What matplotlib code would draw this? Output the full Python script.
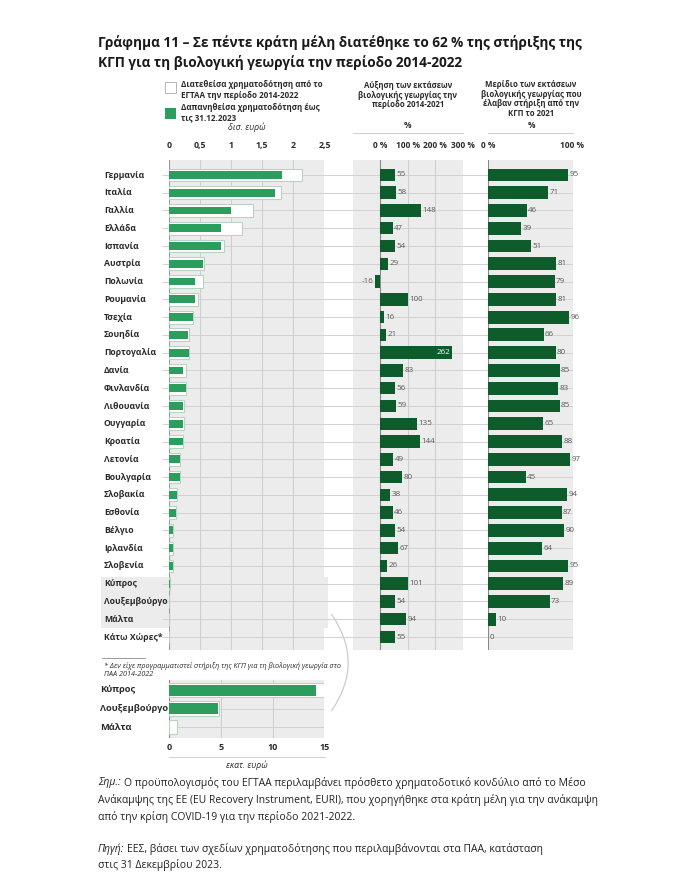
import matplotlib
matplotlib.use("Agg")
import matplotlib.pyplot as plt
from matplotlib.patches import Rectangle, FancyArrowPatch
import numpy as np

W, H = 700, 874

countries = ['Γερμανία', 'Ιταλία', 'Γαλλία', 'Ελλάδα', 'Ισπανία', 'Αυστρία', 'Πολωνία',
             'Ρουμανία', 'Τσεχία', 'Σουηδία', 'Πορτογαλία', 'Δανία', 'Φινλανδία',
             'Λιθουανία', 'Ουγγαρία', 'Κροατία', 'Λετονία', 'Βουλγαρία', 'Σλοβακία',
             'Εσθονία', 'Βέλγιο', 'Ιρλανδία', 'Σλοβενία', 'Κύπρος', 'Λουξεμβούργο',
             'Μάλτα', 'Κάτω Χώρες*']
allocated = [2.14, 1.80, 1.35, 1.18, 0.89, 0.56, 0.55, 0.47, 0.39, 0.32, 0.32, 0.28, 0.28,
             0.24, 0.24, 0.23, 0.18, 0.17, 0.13, 0.12, 0.07, 0.07, 0.07, 0.015, 0.0048,
             0.0008, 0.0]
spent = [1.82, 1.71, 0.99, 0.83, 0.84, 0.55, 0.42, 0.42, 0.38, 0.31, 0.32, 0.22, 0.28,
         0.22, 0.22, 0.22, 0.18, 0.17, 0.13, 0.12, 0.07, 0.07, 0.07, 0.014, 0.0047,
         0.0, 0.0]
growth = [55, 58, 148, 47, 54, 29, -16, 100, 16, 21, 262, 83, 56, 59, 135, 144, 49, 80,
          38, 46, 54, 67, 26, 101, 54, 94, 55]
share = [95, 71, 46, 39, 51, 81, 79, 81, 96, 66, 80, 85, 83, 85, 65, 88, 97, 45, 94, 87,
         90, 64, 95, 89, 73, 10, 0]

inset_countries = ['Κύπρος', 'Λουξεμβούργο', 'Μάλτα']
inset_allocated = [15.0, 4.86, 0.8]
inset_spent = [14.2, 4.76, 0.0]

left_ticks = [0, 0.5, 1, 1.5, 2, 2.5]
left_ticklabels = ['0', '0,5', '1', '1,5', '2', '2,5']
mid_ticks = [0, 100, 200, 300]
mid_ticklabels = ['0 %', '100 %', '200 %', '300 %']
right_ticks = [0, 100]
right_ticklabels = ['0 %', '100 %']
inset_ticks = [0, 5, 10, 15]
inset_ticklabels = ['0', '5', '10', '15']

GREEN = '#2b9e5e'
DARK = '#0e5b2b'
PANEL = '#ececec'
GRID = '#cdcdcd'
TXT = '#2b2b2b'
LBL = '#5a5a5a'
COND = ['Liberation Sans Narrow', 'Open Sans', 'DejaVu Sans']
MAIN = ['Open Sans', 'DejaVu Sans']

plt.rcParams['font.family'] = MAIN

fig = plt.figure(figsize=(W / 100, H / 100), dpi=100)


def rect(x0, y0, x1, y1):
    return [x0 / W, 1 - y1 / H, (x1 - x0) / W, (y1 - y0) / H]


def fx(x):
    return x / W


def fy(y):
    return 1 - y / H


n = len(countries)
rows = np.arange(n)
YLIM = (26.73, -0.84)

# background axes for panels and highlight box (pixel coordinates)
bg = fig.add_axes([0, 0, 1, 1], zorder=0)
bg.set_xlim(0, W)
bg.set_ylim(H, 0)
bg.axis('off')
bg.add_patch(Rectangle((169, 160), 324.4 - 169, 490, color=PANEL, lw=0))
bg.add_patch(Rectangle((353, 160), 463 - 353, 490, color=PANEL, lw=0))
bg.add_patch(Rectangle((488, 160), 572.5 - 488, 490, color=PANEL, lw=0))
bg.add_patch(Rectangle((101, 577), 328 - 101, 51, color=PANEL, lw=0))
bg.plot([353, 463], [133, 133], color=GRID, lw=0.7)
bg.plot([488, 572.5], [133, 133], color=GRID, lw=0.7)

# row lines via an axis sharing the row scale
rl = fig.add_axes(rect(162, 160, 573, 650), zorder=1)
rl.set_ylim(*YLIM)
rl.set_xlim(0, 1)
rl.axis('off')
rl.hlines(rows, 0, 1, color='#d2d2d2', lw=0.7)

# ---- left panel
axL = fig.add_axes(rect(169, 160, 324.4, 650), zorder=2)
axL.patch.set_alpha(0)
axL.set_xlim(0, 2.5)
axL.set_ylim(*YLIM)
for t in left_ticks[1:]:
    axL.axvline(t, color=GRID, lw=0.7, zorder=0)
axL.axvline(0, color='#9a9a9a', lw=0.8, zorder=0)
axL.barh(rows, allocated, height=0.72, color='white', edgecolor='#b9d3c2', lw=0.8, zorder=2)
axL.barh(rows, spent, height=0.44, color=GREEN, lw=0, zorder=3)
axL.set_xticks(left_ticks)
axL.set_xticklabels(left_ticklabels, fontweight='bold', fontsize=6.3, color=TXT, family=COND)
axL.xaxis.set_ticks_position('top')
axL.tick_params(axis='x', length=0, pad=7.5)
axL.set_yticks([])
for s in axL.spines.values():
    s.set_visible(False)

for i, c in enumerate(countries):
    fig.text(fx(104), fy(175 + i * 17.77), c, fontsize=6.2, fontweight='bold', color=TXT,
             va='center', ha='left', family=COND)

# ---- middle panel
axM = fig.add_axes(rect(353, 160, 463, 650), zorder=2)
axM.patch.set_alpha(0)
axM.set_xlim(-97, 300)
axM.set_ylim(*YLIM)
for t in [100, 200]:
    axM.axvline(t, color=GRID, lw=0.7, zorder=0)
axM.axvline(0, color='#8a8a8a', lw=0.8, zorder=0)
axM.barh(rows, growth, height=0.7, color=DARK, lw=0, zorder=3)
for i, v in enumerate(growth):
    if v > 250:
        axM.text(v - 6, i, str(v), ha='right', va='center', fontsize=5.8, color='white', zorder=4)
    elif v < 0:
        axM.text(v - 6, i, str(v), ha='right', va='center', fontsize=5.8, color=LBL, zorder=4)
    else:
        axM.text(v + 5, i, str(v), ha='left', va='center', fontsize=5.8, color=LBL, zorder=4)
axM.set_xticks(mid_ticks)
axM.set_xticklabels(mid_ticklabels, fontweight='bold', fontsize=6.0, color=TXT, family=COND)
axM.xaxis.set_ticks_position('top')
axM.tick_params(axis='x', length=0, pad=7.5)
axM.set_yticks([])
for s in axM.spines.values():
    s.set_visible(False)

# ---- right panel
axR = fig.add_axes(rect(488, 160, 572.5, 650), zorder=2)
axR.patch.set_alpha(0)
axR.set_xlim(0, 100)
axR.set_ylim(*YLIM)
axR.axvline(100, color=GRID, lw=0.7, zorder=0)
axR.axvline(0, color='#8a8a8a', lw=0.8, zorder=0)
axR.barh(rows, share, height=0.72, color=DARK, lw=0, zorder=3)
for i, v in enumerate(share):
    axR.text(v + 1.5, i, str(v), ha='left', va='center', fontsize=5.8, color=LBL, zorder=4,
             clip_on=False)
axR.set_xticks(right_ticks)
axR.set_xticklabels(right_ticklabels, fontweight='bold', fontsize=6.0, color=TXT, family=COND)
axR.xaxis.set_ticks_position('top')
axR.tick_params(axis='x', length=0, pad=7.5)
axR.set_yticks([])
for s in axR.spines.values():
    s.set_visible(False)

# ---- headers
fig.text(fx(247), fy(127), 'δισ. ευρώ', fontsize=6.3, style='italic', color=TXT,
         ha='center', va='center', family=COND)
fig.text(fx(408), fy(95), 'Αύξηση των εκτάσεων\nβιολογικής γεωργίας την\nπερίοδο 2014-2021',
         fontsize=5.6, fontweight='bold', color=TXT, ha='center', va='center',
         linespacing=1.1, family=COND)
fig.text(fx(531), fy(99), 'Μερίδιο των εκτάσεων\nβιολογικής γεωργίας που\nέλαβαν στήριξη από την\nΚΓΠ το 2021',
         fontsize=5.6, fontweight='bold', color=TXT, ha='center', va='center',
         linespacing=1.05, family=COND)
fig.text(fx(408), fy(126), '%', fontsize=6, fontweight='bold', color=TXT, ha='center', va='center')
fig.text(fx(531), fy(126), '%', fontsize=6, fontweight='bold', color=TXT, ha='center', va='center')

# legend
fig.add_artist(Rectangle((fx(165), fy(93)), 11 / W, 11 / H, transform=fig.transFigure,
                         facecolor='white', edgecolor='#b5b5b5', lw=0.7))
fig.add_artist(Rectangle((fx(165), fy(119)), 11 / W, 11 / H, transform=fig.transFigure,
                         facecolor=GREEN, edgecolor='none'))
fig.text(fx(181), fy(90), 'Διατεθείσα χρηματοδότηση από το\nΕΓΤΑΑ την περίοδο 2014-2022',
         fontsize=5.8, fontweight='bold', color=TXT, ha='left', va='center',
         linespacing=1.15, family=COND)
fig.text(fx(181), fy(113), 'Δαπανηθείσα χρηματοδότηση έως\nτις 31.12.2023',
         fontsize=5.8, fontweight='bold', color=TXT, ha='left', va='center',
         linespacing=1.15, family=COND)

# title
fig.text(fx(98), fy(42), 'Γράφημα 11 – Σε πέντε κράτη μέλη διατέθηκε το 62 % της στήριξης της',
         fontsize=9.8, fontweight='bold', color='#1a1a1a', ha='left', va='center')
fig.text(fx(98), fy(63), 'ΚΓΠ για τη βιολογική γεωργία την περίοδο 2014-2022',
         fontsize=9.8, fontweight='bold', color='#1a1a1a', ha='left', va='center')

# footnote star
bg.plot([102, 145], [658, 658], color='#888888', lw=0.6)
fig.text(fx(104), fy(670), '* Δεν είχε προγραμματιστεί στήριξη της ΚΓΠ για τη βιολογική γεωργία στο\nΠΑΑ 2014-2022',
         fontsize=5.2, style='italic', color=TXT, ha='left', va='center', linespacing=1.2,
         family=COND)

# ---- inset
axI = fig.add_axes(rect(169, 680, 324.4, 738), zorder=2)
axI.set_facecolor(PANEL)
ir = np.arange(len(inset_countries))
axI.set_xlim(0, 15)
axI.set_ylim(2.6, -0.55)
for t in [5, 10]:
    axI.axvline(t, color=GRID, lw=0.7, zorder=0)
axI.axvline(0, color='#8a8a8a', lw=0.8, zorder=0)
axI.hlines(ir, 0, 15, color='#d2d2d2', lw=0.7, zorder=0)
axI.barh(ir, inset_allocated, height=0.8, color='white', edgecolor='#b9d3c2', lw=0.8, zorder=2)
axI.barh(ir, inset_spent, height=0.6, color=GREEN, lw=0, zorder=3)
axI.set_xticks(inset_ticks)
axI.set_xticklabels(inset_ticklabels, fontweight='bold', fontsize=6.5, color=TXT, family=COND)
axI.tick_params(axis='x', length=0, pad=3.5)
axI.set_yticks([])
for s in axI.spines.values():
    s.set_visible(False)
for i, c in enumerate(inset_countries):
    fig.text(fx(100), fy(690 + i * 18.5), c, fontsize=6.7, fontweight='bold', color=TXT,
             va='center', ha='left', family=COND)
bg.plot([169, 325], [757, 757], color='#cfcfcf', lw=0.7)
fig.text(fx(247), fy(765), 'εκατ. ευρώ', fontsize=6.3, style='italic', color=TXT,
         ha='center', va='center', family=COND)

# connector arc
arc = FancyArrowPatch((fx(330), fy(612)), (fx(330), fy(713)), transform=fig.transFigure,
                      arrowstyle='-', connectionstyle='arc3,rad=-0.36', color='#cccccc', lw=0.9)
fig.add_artist(arc)

# ---- notes
fig.canvas.draw()
r = fig.canvas.get_renderer()
NFS = 7.5


def mixed(y, italic_part, rest):
    t = fig.text(fx(98), fy(y), italic_part, fontsize=NFS, style='italic', color='#222222',
                 ha='left', va='center')
    bb = t.get_window_extent(renderer=r)
    fig.text(bb.x1 / W + 3 / W, fy(y), rest, fontsize=NFS, color='#222222', ha='left', va='center')


mixed(783, 'Σημ.:', 'Ο προϋπολογισμός του ΕΓΤΑΑ περιλαμβάνει πρόσθετο χρηματοδοτικό κονδύλιο από το Μέσο')
fig.text(fx(98), fy(800), 'Ανάκαμψης της ΕΕ (EU Recovery Instrument, EURI), που χορηγήθηκε στα κράτη μέλη για την ανάκαμψη',
         fontsize=NFS, color='#222222', ha='left', va='center')
fig.text(fx(98), fy(817), 'από την κρίση COVID-19 για την περίοδο 2021-2022.',
         fontsize=NFS, color='#222222', ha='left', va='center')
mixed(849, 'Πηγή:', 'ΕΕΣ, βάσει των σχεδίων χρηματοδότησης που περιλαμβάνονται στα ΠΑΑ, κατάσταση')
fig.text(fx(98), fy(865), 'στις 31 Δεκεμβρίου 2023.',
         fontsize=NFS, color='#222222', ha='left', va='center')

fig.savefig('out.png', dpi=100, facecolor='white')
